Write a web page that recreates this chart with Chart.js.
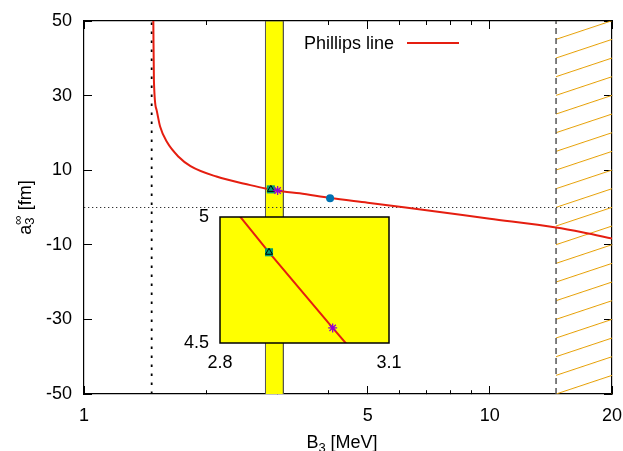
<!DOCTYPE html>
<html>
<head>
<meta charset="utf-8">
<script src="https://cdn.jsdelivr.net/npm/chart.js@4.4.0/dist/chart.umd.min.js"></script>
<style>
	html, body { margin: 0; padding: 0; background: #fff; }
	#wrap { position: relative; width: 623px; height: 451px; }
	#grafico { position: absolute; left: 0; top: 0; }
	#grafico_zoom { position: absolute; left: 150px; top: 200px; }
</style>
</head>
<body>
<div id="wrap">
	<canvas id="grafico" width="623" height="451"></canvas>
	<canvas id="grafico_zoom" width="260" height="175"></canvas>
</div>
<script>
// valores
var phillipsB = [1.482, 1.487, 1.51, 1.54, 1.6, 1.71, 1.83, 2.12, 2.57, 2.8, 2.887, 3.0, 3.1, 3.4, 4.04, 5, 6.2, 10, 14.56, 17, 20];
var phillipsA = [50, 34, 26.1, 21.7, 17.6, 13.6, 11.1, 8.3, 6.0, 5.10, 4.86, 4.56, 4.30, 3.8, 2.55, 1.3, 0, -3.0, -5.36, -6.7, -8.3];

var quadradoB = [2.887];
var quadradoA = [4.86];
var estrelaB = [3.0];
var estrelaA = [4.56];
var pontoB = [4.04];
var pontoA = [2.5];

var faixaB = [2.8, 2.8, 3.1, 3.1];
var faixaA = [-50, 50, 50, -50];

var limiteB = 1.468;   // linha pontilhada vertical
var quebraB = 14.56;   // linha tracejada / inicio da regiao hachurada

var xTicks = [1, 2, 3, 4, 5, 6, 7, 8, 9, 10, 20];
var xLabels = [1, 5, 10, 20];
var yTicks = [-50, -30, -10, 10, 30, 50];

var zoomXTicks = [2.8, 3.1];
var zoomYTicks = [4.5, 5];

var fonte = '"Liberation Sans", Arial, Helvetica, sans-serif';
var vermelho = "#e51e10";

function pontos(xs, ys) {
	return xs.map(function (v, i) {
		return { x: v, y: ys[i] };
	});
}

function semPadding(s) {
	s.paddingLeft = 0;
	s.paddingRight = 0;
	s.paddingTop = 0;
	s.paddingBottom = 0;
}

// hachura laranja
var tile = document.createElement("canvas");
tile.width = 56;
tile.height = 56;
var tc = tile.getContext("2d");
tc.strokeStyle = "#e69f00";
tc.lineWidth = 1;
for (var k = -1; k <= 3; k++) {
	tc.beginPath();
	tc.moveTo(0, 56 - (k * 56) / 3);
	tc.lineTo(56, 56 - ((k + 1) * 56) / 3);
	tc.stroke();
}
var hachura = tc.createPattern(tile, "repeat");

function corHachura(ctx) {
	var c = ctx.chart;
	if (!c.chartArea || !c.scales.x) return "transparent";
	var x0 = c.scales.x.getPixelForValue(quebraB);
	hachura.setTransform(new DOMMatrix().translate(x0, c.chartArea.bottom - 56));
	return hachura;
}

var marcadores = [
	{
		label: "estrela",
		data: pontos(estrelaB, estrelaA),
		showLine: false,
		pointStyle: "star",
		pointRadius: 4.5,
		pointBorderColor: "#9400d3",
		pointBorderWidth: 1.3,
		order: 0,
	},
	{
		label: "triangulo",
		data: pontos(quadradoB, quadradoA),
		showLine: false,
		pointStyle: "triangle",
		pointRadius: 4,
		pointBackgroundColor: "rgba(0,0,0,0)",
		pointBorderColor: "#000",
		pointBorderWidth: 1,
		order: 1,
	},
	{
		label: "quadrado",
		data: pontos(quadradoB, quadradoA),
		showLine: false,
		pointStyle: "rect",
		pointRadius: 5.7,
		pointBackgroundColor: "#009e73",
		pointBorderWidth: 0,
		order: 2,
	},
];

function eixo(extra) {
	var base = {
		z: 1,
		grid: {
			display: true,
			drawOnChartArea: false,
			drawTicks: true,
			tickLength: -8,
			tickColor: "#000",
			tickWidth: 1,
		},
		border: { display: true, color: "#000", width: 1.2 },
		ticks: { color: "#000", font: { family: fonte, size: 18 } },
	};
	return Object.assign(base, extra);
}

var legendaPlugin = {
	id: "legenda",
	afterDraw: function (chart) {
		var ctx = chart.ctx;
		var ds = chart.data.datasets.find(function (d) {
			return d.label === "Phillips line";
		});
		var a = chart.chartArea;
		ctx.save();
		ctx.font = "18px " + fonte;
		ctx.fillStyle = "#000";
		ctx.textAlign = "right";
		ctx.textBaseline = "middle";
		ctx.fillText(ds.label, a.right - 218, a.top + 23);
		ctx.strokeStyle = ds.borderColor;
		ctx.lineWidth = ds.borderWidth;
		ctx.beginPath();
		ctx.moveTo(a.right - 205, a.top + 22);
		ctx.lineTo(a.right - 153, a.top + 22);
		ctx.stroke();
		ctx.restore();
	},
};

var titulosPlugin = {
	id: "titulos",
	afterDraw: function (chart) {
		var ctx = chart.ctx;
		var a = chart.chartArea;
		var grande = "18px " + fonte;
		var pequena = "13px " + fonte;
		ctx.save();
		ctx.fillStyle = "#000";
		ctx.textBaseline = "alphabetic";
		ctx.textAlign = "left";

		// B3 [MeV]
		ctx.font = grande;
		var wB = ctx.measureText("B").width;
		var wR = ctx.measureText(" [MeV]").width;
		ctx.font = pequena;
		var w3 = ctx.measureText("3").width;
		var x = (a.left + a.right) / 2 - 6 - (wB + w3 + wR) / 2;
		var yb = 448;
		ctx.font = grande;
		ctx.fillText("B", x, yb);
		ctx.font = pequena;
		ctx.fillText("3", x + wB, yb + 4);
		ctx.font = grande;
		ctx.fillText(" [MeV]", x + wB + w3, yb);

		// a3 inf [fm] (rotacionado)
		ctx.translate(31, (a.top + a.bottom) / 2);
		ctx.rotate(-Math.PI / 2);
		ctx.font = grande;
		var wa = ctx.measureText("a").width;
		var wf = ctx.measureText(" [fm]").width;
		ctx.font = pequena;
		var wi = Math.max(ctx.measureText("\u221e").width, ctx.measureText("3").width);
		var x0 = -(wa + wi + wf) / 2;
		ctx.font = grande;
		ctx.fillText("a", x0, 0);
		ctx.font = pequena;
		ctx.fillText("\u221e", x0 + wa, -9);
		ctx.fillText("3", x0 + wa, 3);
		ctx.font = grande;
		ctx.fillText(" [fm]", x0 + wa + wi, 0);
		ctx.restore();
	},
};

var graficoPrincipal = new Chart(document.getElementById("grafico"), {
	type: "line",
	data: {
		datasets: marcadores.concat([
			{
				label: "ponto",
				data: pontos(pontoB, pontoA),
				showLine: false,
				pointStyle: "circle",
				pointRadius: 4,
				pointBackgroundColor: "#0072b2",
				pointBorderWidth: 0,
				order: 3,
			},
			{
				label: "Phillips line",
				data: pontos(phillipsB, phillipsA),
				borderColor: vermelho,
				borderWidth: 2,
				pointRadius: 0,
				cubicInterpolationMode: "monotone",
				fill: false,
				order: 4,
			},
			{
				label: "zero",
				data: [
					{ x: 1, y: 0 },
					{ x: 20, y: 0 },
				],
				borderColor: "#333",
				borderWidth: 1,
				borderDash: [1.3, 2.7],
				pointRadius: 0,
				order: 5,
			},
			{
				label: "limite",
				data: [
					{ x: limiteB, y: -50 },
					{ x: limiteB, y: 50 },
				],
				borderColor: "#000",
				borderWidth: 1.8,
				borderDash: [2.5, 6.5],
				pointRadius: 0,
				order: 6,
			},
			{
				label: "quebra",
				data: [
					{ x: quebraB, y: -50 },
					{ x: quebraB, y: 50 },
				],
				borderColor: "#555",
				borderWidth: 1.5,
				borderDash: [6, 4],
				pointRadius: 0,
				order: 7,
			},
			{
				label: "faixa",
				data: pontos(faixaB, faixaA),
				borderColor: "#555",
				borderWidth: 1,
				backgroundColor: "#ffff00",
				fill: "start",
				pointRadius: 0,
				tension: 0,
				order: 8,
			},
			{
				label: "hachura",
				data: [
					{ x: quebraB, y: 50 },
					{ x: 20, y: 50 },
				],
				borderWidth: 0,
				backgroundColor: corHachura,
				fill: "start",
				pointRadius: 0,
				order: 9,
			},
		]),
	},
	options: {
		responsive: false,
		animation: false,
		devicePixelRatio: 1,
		layout: { padding: { left: 0, top: 21, right: 11, bottom: 0 } },
		plugins: { legend: { display: false }, tooltip: { enabled: false } },
		scales: {
			x: eixo({
				type: "logarithmic",
				position: "bottom",
				min: 1,
				max: 20,
				afterBuildTicks: function (s) {
					s.ticks = xTicks.map(function (v) { return { value: v }; });
				},
				afterFit: function (s) { s.height = 57; semPadding(s); },
				ticks: {
					color: "#000",
					font: { family: fonte, size: 18 },
					padding: 19,
					maxRotation: 0,
					autoSkip: false,
					callback: function (v) {
						return xLabels.indexOf(v) >= 0 ? String(v) : "";
					},
				},
				grid: {
					display: true,
					drawOnChartArea: false,
					tickLength: -8,
					tickColor: "#000",
					tickBorderDash: function (ctx) {
						return ctx.tick && xLabels.indexOf(ctx.tick.value) < 0 ? [4, 50] : [];
					},
				},
			}),
			xTopo: eixo({
				type: "logarithmic",
				position: "top",
				min: 1,
				max: 20,
				afterBuildTicks: function (s) {
					s.ticks = xTicks.map(function (v) { return { value: v }; });
				},
				afterFit: function (s) { s.height = 0; semPadding(s); },
				ticks: { display: false },
				grid: {
					display: true,
					drawOnChartArea: false,
					tickLength: -8,
					tickColor: "#000",
					tickBorderDash: function (ctx) {
						return ctx.tick && xLabels.indexOf(ctx.tick.value) < 0 ? [0, 4, 4, 50] : [];
					},
				},
			}),
			y: eixo({
				type: "linear",
				position: "left",
				min: -50,
				max: 50,
				afterBuildTicks: function (s) {
					s.ticks = yTicks.map(function (v) { return { value: v }; });
				},
				afterFit: function (s) { s.width = 84; semPadding(s); },
				ticks: { color: "#000", font: { family: fonte, size: 18 }, padding: 20 },
			}),
			yDireita: eixo({
				type: "linear",
				position: "right",
				min: -50,
				max: 50,
				afterBuildTicks: function (s) {
					s.ticks = yTicks.map(function (v) { return { value: v }; });
				},
				afterFit: function (s) { s.width = 0; semPadding(s); },
				ticks: { display: false },
			}),
		},
	},
	plugins: [legendaPlugin, titulosPlugin],
});

var bordaPlugin = {
	id: "borda",
	afterDatasetsDraw: function (chart) {
		var a = chart.chartArea;
		var ctx = chart.ctx;
		ctx.save();
		ctx.strokeStyle = "#000";
		ctx.lineWidth = 1.5;
		ctx.strokeRect(a.left, a.top, a.right - a.left, a.bottom - a.top);
		ctx.restore();
	},
};

var graficoZoom = new Chart(document.getElementById("grafico_zoom"), {
	type: "line",
	data: {
		datasets: marcadores.concat([
			{
				label: "Phillips line",
				data: pontos(phillipsB, phillipsA),
				borderColor: vermelho,
				borderWidth: 2,
				pointRadius: 0,
				tension: 0,
				order: 4,
			},
			{
				label: "faixa",
				data: pontos(faixaB, faixaA),
				borderWidth: 0,
				backgroundColor: "#ffff00",
				fill: "start",
				pointRadius: 0,
				order: 8,
			},
		]),
	},
	options: {
		responsive: false,
		animation: false,
		devicePixelRatio: 1,
		layout: { padding: { left: 0, top: 17, right: 21, bottom: 0 } },
		plugins: { legend: { display: false }, tooltip: { enabled: false } },
		scales: {
			x: {
				type: "linear",
				min: 2.8,
				max: 3.1,
				afterBuildTicks: function (s) {
					s.ticks = zoomXTicks.map(function (v) { return { value: v }; });
				},
				afterFit: function (s) { s.height = 32; semPadding(s); },
				grid: { display: false, drawTicks: false },
				border: { display: false },
				ticks: {
					color: "#000",
					font: { family: fonte, size: 18 },
					padding: 9,
					maxRotation: 0,
					callback: function (v) { return v.toFixed(1); },
				},
			},
			y: {
				type: "linear",
				min: 4.5,
				max: 5,
				afterBuildTicks: function (s) {
					s.ticks = zoomYTicks.map(function (v) { return { value: v }; });
				},
				afterFit: function (s) { s.width = 70; semPadding(s); },
				grid: { display: false, drawTicks: false },
				border: { display: false },
				ticks: {
					color: "#000",
					font: { family: fonte, size: 18 },
					padding: 11,
					callback: function (v) { return String(v); },
				},
			},
		},
	},
	plugins: [bordaPlugin],
});
</script>
</body>
</html>
